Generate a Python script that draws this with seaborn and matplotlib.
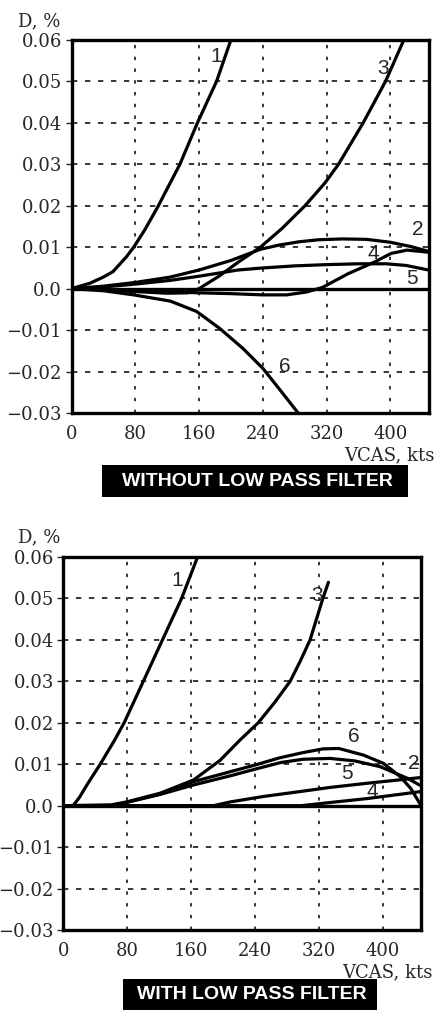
import matplotlib
matplotlib.use("Agg")
import matplotlib.pyplot as plt
from matplotlib.patches import Rectangle
import pandas as pd
import seaborn as sns

# ---- data: D (%) versus calibrated airspeed VCAS (kts) ----
# Panel A: without low pass filter
a1_x = [0, 23, 40, 52, 69, 78, 92, 109, 123, 136, 158, 182, 200]
a1_y = [0, 0.0013, 0.0028, 0.0041, 0.0077, 0.0100, 0.0142, 0.0200, 0.0252, 0.0300, 0.0400, 0.0500, 0.0600]
a2_x = [0, 40, 80, 124, 160, 200, 237, 260, 285, 310, 340, 370, 400, 425, 448]
a2_y = [0, 0.0006, 0.0015, 0.0028, 0.0045, 0.0068, 0.0095, 0.0105, 0.0113, 0.0118, 0.0120, 0.0119, 0.0112, 0.0102, 0.0090]
a3_x = [0, 40, 80, 120, 145, 160, 185, 210, 237, 264, 293, 318, 335, 366, 394, 417]
a3_y = [0, -0.0003, -0.0007, -0.0011, -0.0010, 0, 0.0030, 0.0065, 0.0100, 0.0145, 0.0200, 0.0255, 0.0300, 0.0400, 0.0500, 0.0600]
a4_x = [0, 40, 80, 120, 160, 200, 240, 270, 295, 315, 347, 380, 401, 421, 448]
a4_y = [0, -0.0002, -0.0005, -0.0008, -0.0010, -0.0012, -0.0015, -0.0015, -0.0008, 0.0003, 0.0036, 0.0064, 0.0085, 0.0093, 0.0088]
a5_x = [0, 40, 80, 124, 160, 209, 240, 280, 320, 360, 395, 420, 448]
a5_y = [0, 0.0004, 0.0011, 0.0020, 0.0030, 0.0045, 0.0050, 0.0055, 0.0058, 0.0060, 0.0060, 0.0056, 0.0045]
a6_x = [0, 40, 78, 124, 157, 186, 215, 240, 264, 286]
a6_y = [0, -0.0005, -0.0015, -0.0030, -0.0055, -0.0096, -0.0144, -0.0192, -0.0250, -0.0304]

# Panel B: with low pass filter
b1_x = [0, 12, 20, 30, 46, 64, 76, 100, 124, 148, 168]
b1_y = [0, 0, 0.0020, 0.0052, 0.0100, 0.0158, 0.0200, 0.0300, 0.0400, 0.0500, 0.0600]
b2_x = [0, 150, 188, 209, 250, 300, 334, 380, 420, 448]
b2_y = [0, 0, 0, 0.0009, 0.0022, 0.0035, 0.0044, 0.0054, 0.0062, 0.0068]
b3_x = [0, 60, 79, 121, 163, 196, 221, 244, 265, 284, 297, 309, 325, 332]
b3_y = [0, 0.0002, 0.0009, 0.0030, 0.0062, 0.0109, 0.0158, 0.0200, 0.0250, 0.0300, 0.0350, 0.0400, 0.0500, 0.0539]
b4_x = [0, 200, 298, 336, 380, 420, 448]
b4_y = [0, 0, 0, 0.0008, 0.0017, 0.0027, 0.0034]
b5_x = [0, 60, 79, 121, 163, 209, 240, 272, 300, 334, 365, 397, 431, 448]
b5_y = [0, 0, 0.0008, 0.0027, 0.0050, 0.0072, 0.0088, 0.0104, 0.0112, 0.0114, 0.0108, 0.0094, 0.0066, 0.0048]
b6_x = [0, 60, 79, 121, 163, 209, 240, 270, 300, 325, 345, 376, 401, 422, 435, 445, 448]
b6_y = [0, 0, 0.0008, 0.0028, 0.0058, 0.0082, 0.0098, 0.0115, 0.0128, 0.0137, 0.0138, 0.0122, 0.0102, 0.0070, 0.0042, 0.0010, 0]

# curve number labels: (text, kts, D)
a_labels = [("1", 181, 0.0560), ("3", 391, 0.0532), ("2", 435, 0.0142),
            ("4", 379, 0.0085), ("5", 427, 0.0025), ("6", 268, -0.0188)]
b_labels = [("1", 142, 0.0544), ("3", 318, 0.0508), ("6", 364, 0.0166),
            ("2", 439, 0.0102), ("5", 355, 0.0078), ("4", 387, 0.0034)]

x_ticks = [0, 80, 160, 240, 320, 400]
y_ticks = [-0.03, -0.02, -0.01, 0.0, 0.01, 0.02, 0.03, 0.04, 0.05, 0.06]
y_tick_labels = ["\u22120.03", "\u22120.02", "\u22120.01", "0.0", "0.01", "0.02",
                 "0.03", "0.04", "0.05", "0.06"]
titles = ["WITHOUT LOW PASS FILTER", "WITH LOW PASS FILTER"]


def long_frame(curves):
    rows = []
    for name, xs, ys in curves:
        for x, y in zip(xs, ys):
            rows.append({"curve": name, "VCAS": x, "D": y})
    return pd.DataFrame(rows)


panel_a = long_frame([("1", a1_x, a1_y), ("2", a2_x, a2_y), ("3", a3_x, a3_y),
                      ("4", a4_x, a4_y), ("5", a5_x, a5_y), ("6", a6_x, a6_y)])
panel_b = long_frame([("1", b1_x, b1_y), ("2", b2_x, b2_y), ("3", b3_x, b3_y),
                      ("4", b4_x, b4_y), ("5", b5_x, b5_y), ("6", b6_x, b6_y)])

sns.set_style("white")
plt.rcParams["font.family"] = ["DejaVu Serif"]

W, H = 442, 1011
fig = plt.figure(figsize=(W / 100, H / 100), dpi=100)


def px_axes(left, top, right, bottom):
    return fig.add_axes([left / W, 1 - bottom / H, (right - left) / W, (bottom - top) / H])


layouts = [
    dict(ax=(71.5, 40, 428.5, 413), dlabel=(18, 21), vcas=(435, 455),
         box=(102, 465, 408, 497), text_x=257),
    dict(ax=(63.5, 557, 421, 930), dlabel=(18, 537), vcas=(433, 972),
         box=(123, 979, 377, 1010), text_x=252),
]

for data, labels, lay, title in zip([panel_a, panel_b], [a_labels, b_labels], layouts, titles):
    ax = px_axes(*lay["ax"])
    ax.set_xlim(0, 448)
    ax.set_ylim(-0.03, 0.06)

    # dashed reference grid
    for v in x_ticks[1:]:
        ax.axvline(v, color="black", lw=1.1, ls=(0, (2.2, 5.5)), zorder=1)
    for v in y_ticks[1:-1]:
        if v != 0.0:
            ax.axhline(v, color="black", lw=1.1, ls=(0, (3.5, 5.0)), zorder=1)
    ax.axhline(0.0, color="black", lw=2.4, zorder=2)

    sns.lineplot(data=data, x="VCAS", y="D", units="curve", estimator=None,
                 sort=False, color="black", lw=2.3, ax=ax, legend=False, zorder=3)

    for txt, x, y in labels:
        ax.text(x, y, txt, fontsize=15, family=["Liberation Sans", "DejaVu Sans"],
                ha="center", va="center", zorder=4)

    ax.set_xticks(x_ticks)
    ax.set_xticklabels([str(v) for v in x_ticks])
    ax.set_yticks(y_ticks)
    ax.set_yticklabels(y_tick_labels)
    ax.tick_params(axis="x", length=0, pad=9, labelsize=13)
    ax.tick_params(axis="y", length=4, width=1, direction="out", pad=3, labelsize=13, left=True)
    ax.set_xlabel("")
    ax.set_ylabel("")
    for s in ax.spines.values():
        s.set_color("black")
        s.set_linewidth(2.4)

    fig.text(lay["dlabel"][0] / W, 1 - lay["dlabel"][1] / H, "D, %", fontsize=13,
             ha="left", va="center")
    fig.text(lay["vcas"][0] / W, 1 - lay["vcas"][1] / H, "VCAS, kts", fontsize=13,
             ha="right", va="center")

    bx0, by0, bx1, by1 = lay["box"]
    fig.add_artist(Rectangle((bx0 / W, 1 - by1 / H), (bx1 - bx0) / W, (by1 - by0) / H,
                             transform=fig.transFigure, facecolor="black",
                             edgecolor="none"))
    fig.text(lay["text_x"] / W, 1 - ((by0 + by1) / 2) / H, title, color="white",
             fontsize=14, fontweight="bold", family=["Liberation Sans", "DejaVu Sans"],
             ha="center", va="center")

fig.savefig("out.png", dpi=100, facecolor="white")
